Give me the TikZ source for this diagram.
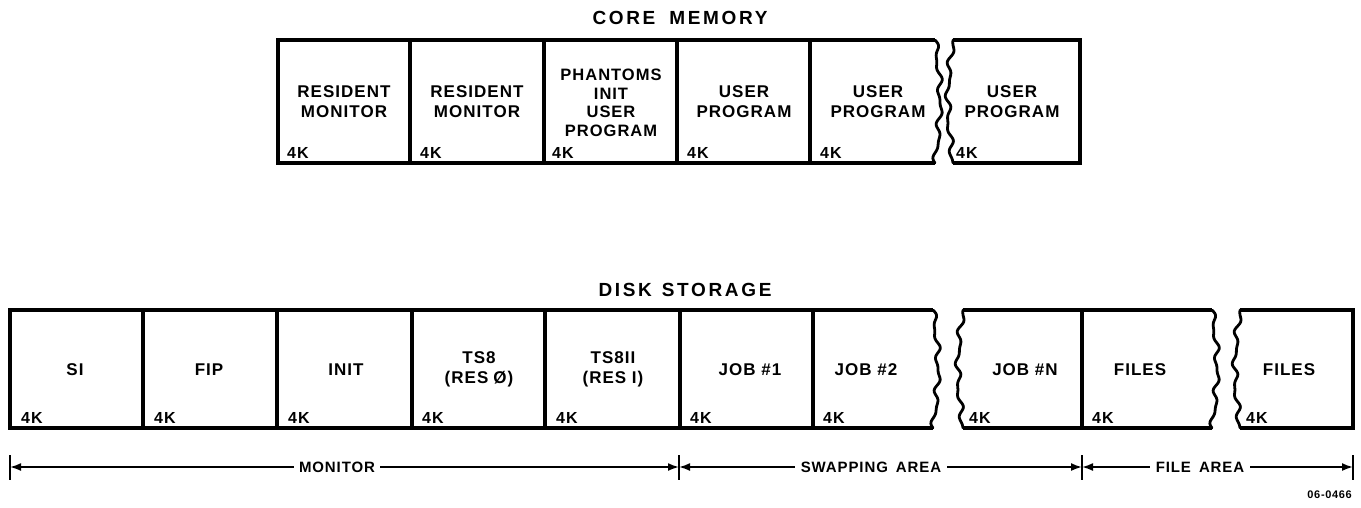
\documentclass[tikz,border=0pt]{standalone}
\usepackage{fontspec}
\setmainfont{Liberation Sans}
\usetikzlibrary{arrows.meta}
\newfontfamily\lblfont{Liberation Sans}[LetterSpace=6]
\newfontfamily\ttlfont{Liberation Sans}[LetterSpace=14]
\newcommand\wavyR[3]{plot[domain=0:1,samples=80,smooth,variable=\t]
  ({#1+5*sin(180*\t)+2.0*sin(1440*\t)+1.1*sin(2520*\t)},{#2+\t*(#3-#2)})}
\newcommand\wavyL[3]{plot[domain=0:1,samples=80,smooth,variable=\t]
  ({#1-5*sin(180*\t)+2.0*sin(1440*\t)-1.1*sin(2520*\t)},{#2+\t*(#3-#2)})}
\tikzset{
  boxline/.style={line width=3.1pt, line join=miter},
  wavy/.style={line width=2.8pt, line cap=round},
  lbl/.style={font=\lblfont\bfseries\fontsize{17}{20}\selectfont, align=center, inner sep=0pt},
  kk/.style={font=\lblfont\bfseries\fontsize{16}{18}\selectfont, anchor=west, inner sep=0pt},
  ttl/.style={font=\ttlfont\bfseries\fontsize{19}{21}\selectfont, inner sep=0pt},
  dimlbl/.style={font=\lblfont\bfseries\fontsize{15}{18}\selectfont, inner sep=0pt},
  dimline/.style={line width=1.8pt, -{Latex[length=11pt,width=8pt]}},
  tickline/.style={line width=2pt},
  fig/.style={font=\lblfont\bfseries\fontsize{11}{13}\selectfont, inner sep=0pt},
}
\begin{document}
\begin{tikzpicture}[x=1pt,y=-1pt]
\useasboundingbox (0,0) rectangle (1361,507);

% ---------------- CORE MEMORY ----------------
\node[ttl] (coretitle) at (680,18) {CORE\hspace{14pt}MEMORY};

\draw[boxline] (935,40) -- (278,40) -- (278,163) -- (935,163);
\foreach \x in {410,544,677,810} \draw[boxline] (\x,40) -- (\x,163);
\draw[wavy] \wavyR{935}{40}{163};
\draw[boxline] (953,40) -- (1080,40) -- (1080,163) -- (953,163);
\draw[wavy] \wavyL{953}{40}{163};

\node[lbl] (cm1) at (344,102) {RESIDENT\\MONITOR};
\node[lbl] (cm2) at (477,102) {RESIDENT\\MONITOR};
\node[lbl,font=\lblfont\bfseries\fontsize{16.5}{18.5}\selectfont] (cm3) at (611,103) {PHANTOMS\\INIT\\USER\\PROGRAM};
\node[lbl] (cm4) at (744,102) {USER\\PROGRAM};
\node[lbl] (cm5) at (878,102) {USER\\PROGRAM};
\node[lbl] (cm6) at (1012,102) {USER\\PROGRAM};

\node[kk] (ck1) at (287,153) {4K};
\node[kk] (ck2) at (420,153) {4K};
\node[kk] (ck3) at (552,153) {4K};
\node[kk] (ck4) at (687,153) {4K};
\node[kk] (ck5) at (820,153) {4K};
\node[kk] (ck6) at (956,153) {4K};

% ---------------- DISK STORAGE ----------------
\node[ttl] (disktitle) at (685,290) {DISK\hspace{10pt}STORAGE};

\draw[boxline] (933,310) -- (10,310) -- (10,428) -- (933,428);
\foreach \x in {143,277,412,545,680,813} \draw[boxline] (\x,310) -- (\x,428);
\draw[wavy] \wavyR{933}{310}{428};
\draw[boxline] (1212,310) -- (963,310);
\draw[boxline] (963,428) -- (1212,428);
\draw[boxline] (1082,310) -- (1082,428);
\draw[wavy] \wavyL{963}{310}{428};
\draw[wavy] \wavyR{1212}{310}{428};
\draw[boxline] (1240,310) -- (1353,310) -- (1353,428) -- (1240,428);
\draw[wavy] \wavyL{1240}{310}{428};

\node[lbl] (ds1) at (75,370) {SI};
\node[lbl] (ds2) at (209,370) {FIP};
\node[lbl] (ds3) at (346,370) {INIT};
\node[lbl] (ds4) at (479,369) {TS8\\(RES\hspace{5pt}Ø)};
\node[lbl] (ds5) at (613,369) {TS8II\\(RES I)};
\node[lbl] (ds6) at (750,370) {JOB \#1};
\node[lbl] (ds7) at (866,370) {JOB \#2};
\node[lbl] (ds8) at (1025,370) {JOB \#N};
\node[lbl] (ds9) at (1140,370) {FILES};
\node[lbl] (ds10) at (1289,370) {FILES};

\node[kk] (dk1) at (21,418) {4K};
\node[kk] (dk2) at (154,418) {4K};
\node[kk] (dk3) at (288,418) {4K};
\node[kk] (dk4) at (422,418) {4K};
\node[kk] (dk5) at (556,418) {4K};
\node[kk] (dk6) at (690,418) {4K};
\node[kk] (dk7) at (823,418) {4K};
\node[kk] (dk8) at (969,418) {4K};
\node[kk] (dk9) at (1092,418) {4K};
\node[kk] (dk10) at (1246,418) {4K};

% ---------------- DIMENSIONS ----------------
\coordinate (t0) at (10,467);
\coordinate (t1) at (679,467);
\coordinate (t2) at (1082,467);
\coordinate (t3) at (1353,467);
\foreach \c in {t0,t1,t2,t3}
  \draw[tickline] ([yshift=12pt]\c) -- ([yshift=-13pt]\c);

\node[dimlbl] (mon) at (337,467) {MONITOR};
\node[dimlbl] (swp) at (871,467) {SWAPPING\hspace{8pt}AREA};
\node[dimlbl] (fil) at (1200,467) {FILE\hspace{8pt}AREA};

\draw[dimline] ([xshift=-5pt]mon.west) -- (t0);
\draw[dimline] ([xshift=5pt]mon.east) -- (t1);
\draw[dimline] ([xshift=-6pt]swp.west) -- (t1);
\draw[dimline] ([xshift=6pt]swp.east) -- (t2);
\draw[dimline] ([xshift=-6pt]fil.west) -- (t2);
\draw[dimline] ([xshift=6pt]fil.east) -- (t3);

\node[fig,anchor=east] (figno) at (1352,495) {06-0466};
\end{tikzpicture}
\end{document}
